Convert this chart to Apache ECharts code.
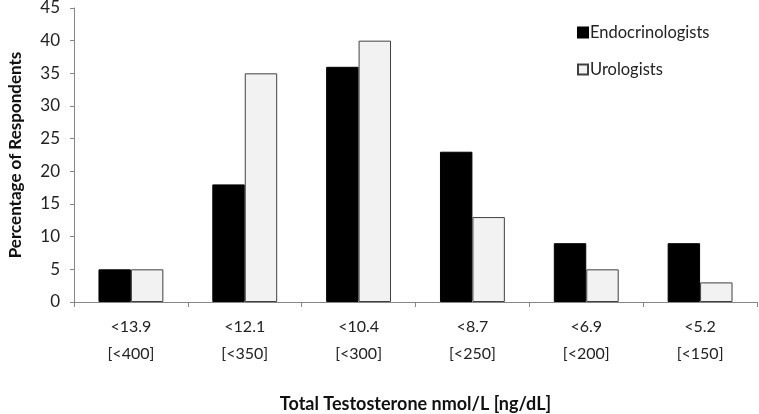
<!DOCTYPE html>
<html><head><meta charset="utf-8">
<script src="https://cdn.jsdelivr.net/npm/echarts@6/dist/echarts.min.js"></script>
<style>html,body{margin:0;padding:0;background:#fff}#c{width:759px;height:414px}</style>
</head><body><div id="c"></div>
<script>
const categories = ['<13.9\n[<400]', '<12.1\n[<350]', '<10.4\n[<300]', '<8.7\n[<250]', '<6.9\n[<200]', '<5.2\n[<150]'];
const endocrinologists = [5, 18, 36, 23, 9, 9];
const urologists = [5, 35, 40, 13, 5, 3];
const yTicks = [0, 5, 10, 15, 20, 25, 30, 35, 40, 45];

const FONT = 'Lato, "Open Sans", sans-serif';
const chart = echarts.init(document.getElementById('c'), null, {renderer: 'canvas'});
chart.setOption({
  animation: false,
  textStyle: {fontFamily: FONT},
  grid: {left: 74, right: 2, top: 8, bottom: 112, containLabel: false, outerBoundsMode: 'none'},
  legend: {
    orient: 'vertical', left: 572, top: 19, itemGap: 20,
    itemWidth: 10, itemHeight: 10, icon: 'rect',
    textStyle: {fontFamily: FONT, fontSize: 16.5, color: '#222', padding: [0, 0, 0, -3]},
    data: ['Endocrinologists', 'Urologists']
  },
  xAxis: {
    type: 'category', data: categories,
    name: 'Total Testosterone nmol/L [ng/dL]', nameLocation: 'middle', nameGap: 93,
    nameTextStyle: {fontFamily: FONT, fontSize: 18, fontWeight: 'bold', color: '#111'},
    axisLine: {lineStyle: {color: '#868686', width: 1}},
    axisTick: {show: true, length: 5, lineStyle: {color: '#868686'}},
    axisLabel: {fontFamily: FONT, fontSize: 16, color: '#222', lineHeight: 27, margin: 11}
  },
  yAxis: {
    type: 'value', min: 0, max: 45, interval: 5,
    name: 'Percentage of Respondents', nameLocation: 'middle', nameGap: 50, nameRotate: 90,
    nameTextStyle: {fontFamily: FONT, fontSize: 17, fontWeight: 'bold', color: '#111'},
    axisLine: {show: true, lineStyle: {color: '#868686', width: 1}},
    axisTick: {show: true, length: 4, lineStyle: {color: '#868686'}},
    splitLine: {show: false},
    axisLabel: {fontFamily: FONT, fontSize: 17, color: '#222', margin: 14,
      formatter: v => yTicks.includes(v) ? String(v) : ''}
  },
  series: [
    {name: 'Endocrinologists', type: 'bar', data: endocrinologists, barGap: '0%', barCategoryGap: '43%',
     itemStyle: {color: '#000', borderColor: '#000', borderWidth: 1}},
    {name: 'Urologists', type: 'bar', data: urologists,
     itemStyle: {color: '#f2f2f2', borderColor: '#404040', borderWidth: 1}}
  ]
});
</script></body></html>
